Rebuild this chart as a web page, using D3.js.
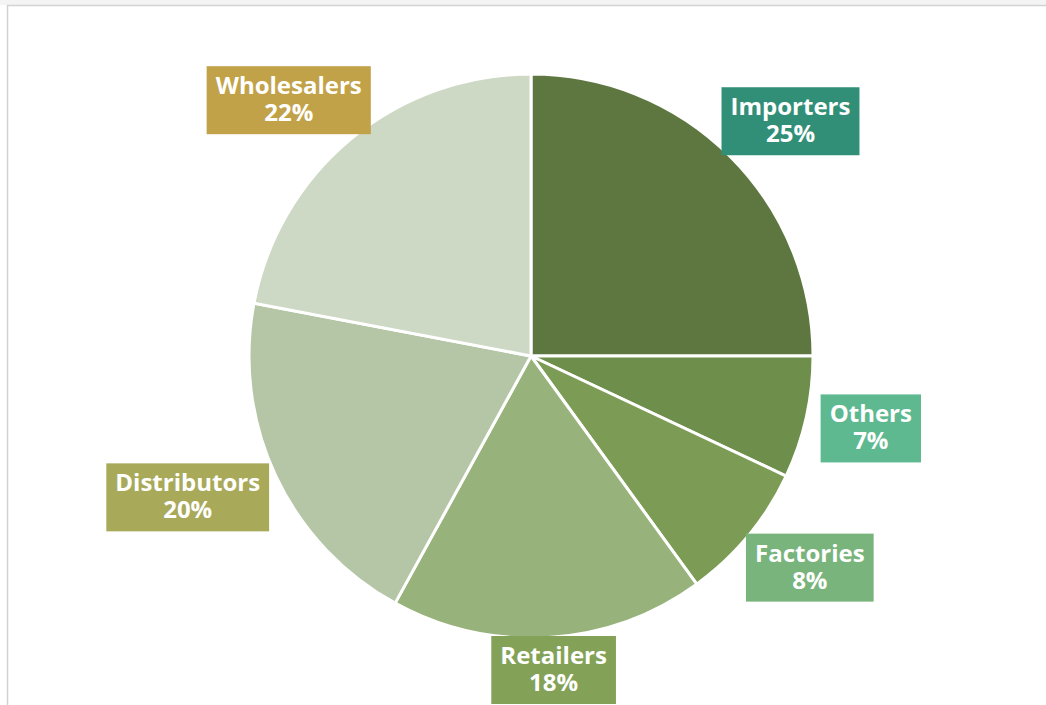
<!DOCTYPE html>
<html>
<head>
<meta charset="utf-8">
<script src="https://cdn.jsdelivr.net/npm/d3@7"></script>
<style>
  body { margin: 0; background: #fff; }
  svg { display: block; }
  .lbl { font-family: "Open Sans", "Noto Sans", sans-serif; font-weight: bold; font-size: 24px; fill: #fff; }
</style>
</head>
<body>
<div id="chart"></div>
<script>
var svgWidth = 1046;
var svgHeight = 705;

// data, clockwise from 12 o'clock
var categories = ["Importers", "Others", "Factories", "Retailers", "Distributors", "Wholesalers"];
var shares = [25, 7, 8, 18, 20, 22];
var sliceColors = ["#5e7741", "#6d8f4b", "#7c9c55", "#98b27b", "#b4c6a6", "#cdd8c5"];
var labelColors = ["#318f77", "#5eb990", "#79b47d", "#83a257", "#a9a95a", "#c2a248"];

var dataset = categories.map(function(c, i) {
    return { name: c, value: shares[i], color: sliceColors[i], labelColor: labelColors[i] };
});

var svg = d3.select("#chart")
    .append("svg")
    .attr("width", svgWidth)
    .attr("height", svgHeight);

// window frame
svg.append("rect")
    .attr("x", 0).attr("y", 0)
    .attr("width", svgWidth).attr("height", 5)
    .attr("fill", "#f4f4f4");
svg.append("rect")
    .attr("x", 7.5).attr("y", 5.5)
    .attr("width", svgWidth + 10).attr("height", svgHeight + 10)
    .attr("fill", "#fff")
    .attr("stroke", "#d2d2d2")
    .attr("stroke-width", 1.5);

var cx = 531, cy = 356, radius = 282;

var pie = d3.pie()
    .sort(null)
    .value(function(d) { return d.value; });

var arc = d3.arc()
    .innerRadius(0)
    .outerRadius(radius);

var chartGroup = svg.append("g")
    .attr("transform", `translate(${cx}, ${cy})`);

var arcs = pie(dataset);

chartGroup.selectAll("path")
    .data(arcs)
    .enter()
    .append("path")
    .attr("d", arc)
    .attr("fill", d => d.data.color)
    .attr("stroke", "#fff")
    .attr("stroke-width", 3)
    .attr("stroke-linejoin", "round");

// labels outside end
var labelGroup = chartGroup.append("g");
var lineH = 27;
var padX = 9, boxH = 68;
var anchorR = radius + 16;

arcs.forEach(function(d) {
    var mid = (d.startAngle + d.endAngle) / 2;
    var g = labelGroup.append("g");
    var t = g.append("text")
        .attr("class", "lbl")
        .attr("text-anchor", "middle");
    t.append("tspan").attr("x", 0).attr("y", 0).text(d.data.name);
    t.append("tspan").attr("x", 0).attr("y", lineH).text(d.data.value + "%");
    var bb = t.node().getBBox();
    var w = bb.width + padX * 2;
    var ax = Math.sin(mid) * anchorR;
    var ay = -Math.cos(mid) * anchorR;
    var bx = ax + Math.sin(mid) * w / 2;
    var by = ay - Math.cos(mid) * boxH / 2;
    // keep the box inside the chart area
    var maxY = svgHeight - 1 - cy - boxH / 2;
    if (by > maxY) by = maxY;
    g.attr("transform", `translate(${bx}, ${by})`);
    g.insert("rect", "text")
        .attr("x", -w / 2)
        .attr("y", -boxH / 2)
        .attr("width", w)
        .attr("height", boxH)
        .attr("fill", d.data.labelColor);
    t.attr("transform", `translate(0, ${-boxH / 2 + 28})`);
});
</script>
</body>
</html>
